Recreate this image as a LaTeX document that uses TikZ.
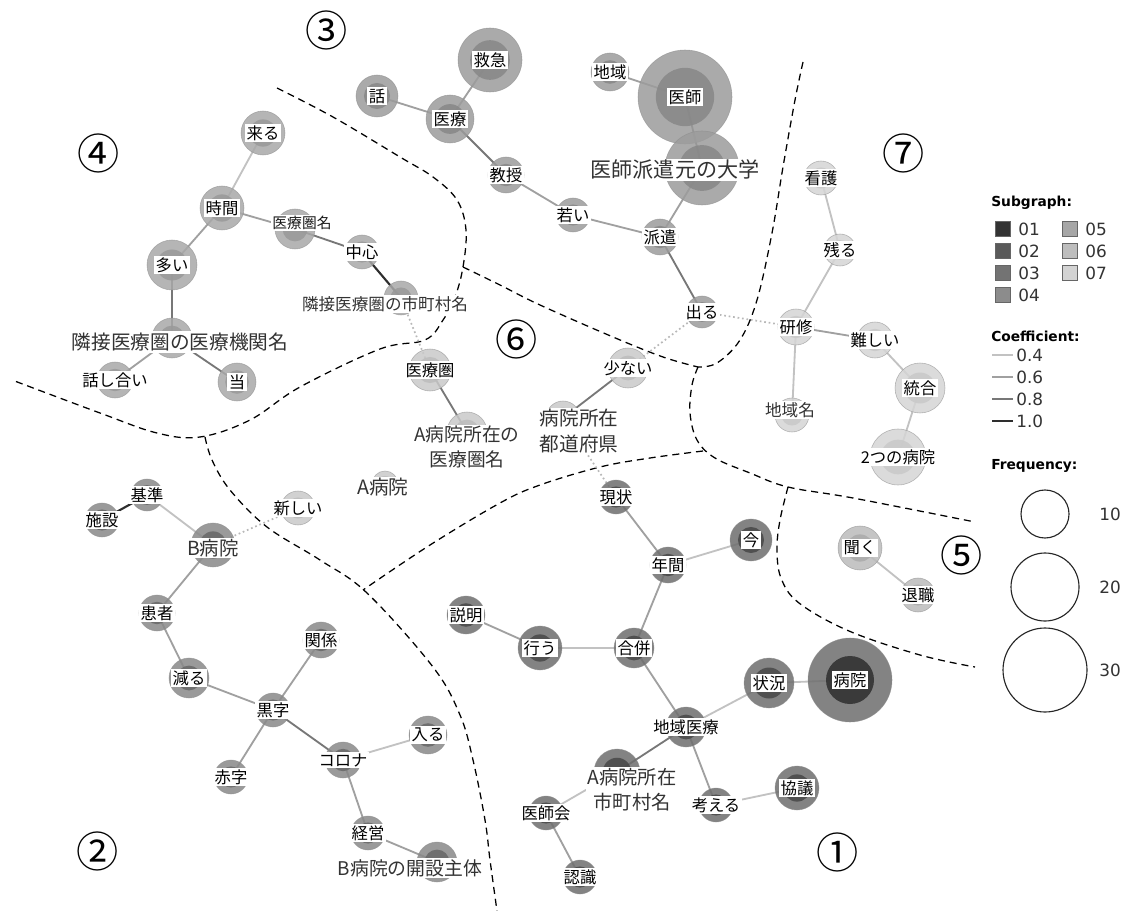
\documentclass[tikz,border=0pt]{standalone}
\usepackage{fontspec}
\setmainfont{DejaVu Sans}
\newfontfamily\jp{Noto Sans CJK JP}
\usepackage{tikz}
\usetikzlibrary{positioning}
\pgfdeclarelayer{bg}
\pgfsetlayers{bg,main}
\definecolor{sgKey1}{HTML}{333333}
\definecolor{sgKey2}{HTML}{5A5A5A}
\definecolor{sgKey3}{HTML}{737373}
\definecolor{sgKey4}{HTML}{8C8C8C}
\definecolor{sgKey5}{HTML}{A6A6A6}
\definecolor{sgKey6}{HTML}{BDBDBD}
\definecolor{sgKey7}{HTML}{D3D3D3}
\definecolor{sgOut1}{HTML}{6E6E6E}
\definecolor{sgOut2}{HTML}{898989}
\definecolor{sgOut3}{HTML}{9C9C9C}
\definecolor{sgOut4}{HTML}{A9A9A9}
\definecolor{sgOut5}{HTML}{BCBCBC}
\definecolor{sgOut6}{HTML}{C9C9C9}
\definecolor{sgOut7}{HTML}{D5D5D5}
\definecolor{sgIn1}{HTML}{484848}
\definecolor{sgIn2}{HTML}{686868}
\definecolor{sgIn3}{HTML}{878787}
\definecolor{sgIn4}{HTML}{999999}
\definecolor{sgIn5}{HTML}{ABABAB}
\definecolor{sgIn6}{HTML}{BCBCBC}
\definecolor{sgIn7}{HTML}{C9C9C9}
\definecolor{coef4}{HTML}{C2C2C2}
\definecolor{coef6}{HTML}{A0A0A0}
\definecolor{coef8}{HTML}{777777}
\definecolor{coef10}{HTML}{2E2E2E}

\begin{document}
\begin{tikzpicture}[
    x=0.025cm, y=-0.025cm,
    kwc/.style     = {circle, inner sep=0pt, draw=black!45, line width=0.4pt, fill opacity=0.85, draw opacity=0.6},
    kwl/.style     = {fill=white, inner sep=1.2pt, font=\jp\fontsize{11.6}{13}\selectfont, text=black},
    bigl/.style    = {fill=white, inner sep=1pt, font=\jp\fontsize{14}{18}\selectfont, text=black!80, align=center},
    bnd/.style     = {black, line width=0.9pt, dash pattern=on 5pt off 3.5pt},
    e4/.style      = {draw=coef4, line width=1.3pt},
    e6/.style      = {draw=coef6, line width=1.3pt},
    e8/.style      = {draw=coef8, line width=1.3pt},
    e10/.style     = {draw=coef10, line width=1.5pt},
    edot/.style    = {draw=black!28, line width=1.2pt, dotted},
    cnum/.style    = {font=\jp\fontsize{30}{30}\selectfont, inner sep=0pt},
    lgtitle/.style = {font=\bfseries\fontsize{9.8}{11}\selectfont, anchor=west, inner sep=0pt},
    lgtext/.style  = {font=\fontsize{12}{14}\selectfont, text=black!80, anchor=west, inner sep=0pt},
    swatch/.style  = {draw=black!60, line width=0.6pt, minimum size=0.38cm, inner sep=0pt},
    freqc/.style   = {circle, draw=black!85, line width=0.8pt, inner sep=0pt}
  ]
  \useasboundingbox (0,0) rectangle (1128,911);

  % keyword circles with a label
  \foreach \n/\x/\y/\r/\g/\t in {
      kyukyu/490/60/32/3/救急, hanashi/377/96/21/3/話, iryo/450/119/24/3/医療,
      kyoju/506/175/18/3/教授, wakai/573/215/17/3/若い, haken/660/237/18/3/派遣,
      chiiki/610/72/19/3/地域, ishi/685/97/47/3/医師, deru/702/312/16/3/出る,
      kuru/263/133/22/4/来る, jikan/222/208/22/4/時間, ooi/172/265/25/4/多い,
      chushin/362/252/17/4/中心, hanashiai/115/380/18/4/話し合い, tou/237/382/19/4/当,
      iryoken/430/370/21/6/医療圏, sukunai/628/368/20/6/少ない, atarashii/298/508/17/6/新しい,
      kango/821/178/17/7/看護, nokoru/840/250/16/7/残る, kenshu/796/327/18/7/研修,
      muzukashii/875/340/18/7/難しい, togo/920/388/25/7/統合, futatsu/898/457/28/7/2つの病院,
      kiku/860/548/22/5/聞く, taishoku/918/595/17/5/退職,
      genjo/616/497/17/1/現状, nenkan/668/565/18/1/年間, ima/751/540/21/1/今,
      setsumei/466/615/19/1/説明, okonau/540/648/22/1/行う, gappei/634/648/20/1/合併,
      chiikiiryo/686/727/20/1/地域医療, jokyo/769/683/25/1/状況, kangaeru/716/805/17/1/考える,
      kyogi/797/788/22/1/協議, ishikai/546/813/17/1/医師会, ninshiki/580/877/17/1/認識,
      kijun/147/495/16/2/基準, shisetsu/102/520/17/2/施設, kanja/157/613/18/2/患者,
      heru/189/678/20/2/減る, kankei/321/640/18/2/関係, kuroji/273/710/17/2/黒字,
      akaji/231/777/17/2/赤字, korona/343/760/18/2/コロナ, hairu/428/735/19/2/入る,
      keiei/368/833/17/2/経営}{
    \node[kwc, fill=sgOut\g, minimum size=2*\r*0.025cm] (\n) at (\x,\y) {};
    \fill[sgIn\g, fill opacity=0.85] (\n.center) circle[radius=0.62*\r*0.025cm];
    \node[kwl] (\n-t) at (\n.center) {\t};
  }
  \node[kwc, fill=sgOut1, minimum size=84*0.025cm] (byoin) at (850,680) {};
  \fill[sgKey1, fill opacity=0.9] (byoin.center) circle[radius=24*0.025cm];
  \node[kwl] (byoin-t) at (byoin.center) {病院};

  % keyword circles whose name is printed beside them
  \foreach \n/\x/\y/\r/\g in {
      daigaku/702/168/37/3, kenmei/295/229/20/4, rinshi/401/298/17/4,
      rinki/172/338/20/4, akenmei/467/432/20/6, abyoin/385/484/13/6,
      todofuken/563/418/17/6, chiikimei/792/415/17/7, ashichoson/617/772/23/1,
      bbyoin/213/545/22/2, kaisetsu/437/862/20/2}{
    \node[kwc, fill=sgOut\g, minimum size=2*\r*0.025cm] (\n) at (\x,\y) {};
    \fill[sgIn\g, fill opacity=0.85] (\n.center) circle[radius=0.62*\r*0.025cm];
  }
  \node[bigl, font=\jp\fontsize{15}{18}\selectfont] (daigaku-t) at (675,170) {医師派遣元の大学};
  \node[bigl, font=\jp\fontsize{10.5}{12}\selectfont, text=black!90] (kenmei-t) at (302,223) {医療圏名};
  \node[bigl, font=\jp\fontsize{11.8}{14}\selectfont] (rinshi-t) at (385,304) {隣接医療圏の市町村名};
  \node[bigl] (rinki-t) at (180,342) {隣接医療圏の医療機関名};
  \node[bigl, font=\jp\fontsize{13.3}{17.5}\selectfont] (akenmei-t) at (467,447) {A病院所在の\\医療圏名};
  \node[bigl] (abyoin-t) at (383,487) {A病院};
  \node[bigl] (todofuken-t) at (579,431) {病院所在\\都道府県};
  \node[bigl, font=\jp\fontsize{11.8}{14}\selectfont] (chiikimei-t) at (790,410) {地域名};
  \node[bigl, font=\jp\fontsize{13.7}{18}\selectfont] (ashichoson-t) at (632,790) {A病院所在\\市町村名};
  \node[bigl, font=\jp\fontsize{13.8}{17}\selectfont] (bbyoin-t) at (213,548) {B病院};
  \node[bigl, font=\jp\fontsize{13.4}{17}\selectfont] (kaisetsu-t) at (410,868) {B病院の開設主体};

  % region numbers
  \node[cnum] (num1) at (838,852) {①};
  \node[cnum] (num2) at (98,851)  {②};
  \node[cnum] (num3) at (327,30)  {③};
  \node[cnum] (num4) at (99,153)  {④};
  \node[cnum] (num5) at (962,555) {⑤};
  \node[cnum] (num6) at (517,339) {⑥};
  \node[cnum] (num7) at (904,153) {⑦};

  \begin{pgfonlayer}{bg}
    \fill[white] (0,0) rectangle (1128,911);
    \draw[bnd] plot[smooth, tension=0.6] coordinates {(277,88) (333,117) (400,157) (433,177)
      (457,200) (466,230) (463,267) (455,297) (443,320) (425,340) (380,349) (300,387)
      (250,420) (200,437) (157,433) (100,413) (12,380)};
    \draw[bnd] plot[smooth, tension=0.6] coordinates {(463,267) (500,285) (540,305)
      (613,337) (663,357) (698,367)};
    \draw[bnd] plot[smooth, tension=0.6] coordinates {(803,62) (795,100) (783,167)
      (772,233) (757,300) (740,340) (717,363) (698,367)};
    \draw[bnd] plot[smooth, tension=0.6] coordinates {(698,367) (692,385) (690,413)
      (697,440) (715,458) (750,473) (788,487) (853,498) (975,522)};
    \draw[bnd] plot[smooth, tension=0.6] coordinates {(703,451) (650,458) (600,467)
      (540,485) (500,503) (430,545) (363,590)};
    \draw[bnd] plot[smooth, tension=0.6] coordinates {(205,437) (212,460) (230,490)
      (267,527) (320,560) (367,593) (433,667) (460,715) (473,760) (485,820) (490,860) (497,911)};
    \draw[bnd] plot[smooth, tension=0.6] coordinates {(788,487) (780,520) (777,549)
      (781,578) (799,603) (849,631) (920,655) (975,667)};
  \end{pgfonlayer}

  \begin{pgfonlayer}{bg}
    \foreach \a/\b in {kuru/jikan, kango/nokoru, nokoru/kenshu, muzukashii/togo,
        togo/futatsu, kenshu/chiikimei, kiku/taishoku, nenkan/ima, okonau/gappei,
        chiikiiryo/jokyo, jokyo/byoin, kangaeru/kyogi, ishikai/ashichoson,
        kijun/bbyoin, korona/hairu}
      \draw[e4] (\a.center) -- (\b.center);
    \foreach \a/\b in {hanashi/iryo, kyukyu/iryo, kyoju/wakai, wakai/haken,
        haken/daigaku, chiiki/ishi, jikan/ooi, jikan/kenmei, rinki/hanashiai,
        kenshu/muzukashii, genjo/nenkan, nenkan/gappei, setsumei/okonau,
        gappei/chiikiiryo, chiikiiryo/kangaeru, ishikai/ninshiki, bbyoin/kanja,
        kanja/heru, heru/kuroji, kuroji/kankei, kuroji/akaji, korona/keiei,
        keiei/kaisetsu}
      \draw[e6] (\a.center) -- (\b.center);
    \foreach \a/\b in {iryo/kyoju, ishi/daigaku, haken/deru, kenmei/chushin,
        ooi/rinki, rinki/tou, iryoken/akenmei, sukunai/todofuken,
        chiikiiryo/ashichoson, kuroji/korona}
      \draw[e8] (\a.center) -- (\b.center);
    \foreach \a/\b in {chushin/rinshi, shisetsu/kijun}
      \draw[e10] (\a.center) -- (\b.center);
    \foreach \a/\b in {rinshi/iryoken, deru/sukunai, deru/kenshu, atarashii/bbyoin,
        todofuken/genjo}
      \draw[edot] (\a.center) -- (\b.center);
  \end{pgfonlayer}

  % legend
  \node[lgtitle] (lgsub) at (991,203) {Subgraph:};
  \foreach \i/\x/\y in {1/1003/229, 2/1003/251, 3/1003/273, 4/1003/295,
      5/1070/229, 6/1070/251, 7/1070/273}{
    \node[swatch, fill=sgKey\i] (key\i) at (\x,\y) {};
    \node[lgtext, right=5pt of key\i] (keylbl\i) {0\i};
  }
  \node[lgtitle] (lgcoef) at (991,336) {Coefficient:};
  \foreach \c/\y/\l in {4/355/0.4, 6/377/0.6, 8/399/0.8, 10/421/1.0}{
    \coordinate (ck\c) at (992,\y);
    \node[lgtext] (cl\c) at (1016,\y) {\l};
    \draw[e\c, shorten >=2.5pt] (ck\c) -- (cl\c.west);
  }
  \node[lgtitle] (lgfreq) at (991,466) {Frequency:};
  \foreach \f/\y/\r in {10/514/24, 20/587/34, 30/670/42}{
    \node[freqc, minimum size=2*\r*0.025cm] (fq\f) at (1045,\y) {};
    \node[lgtext] (fl\f) at (1099,\y) {\f};
  }
\end{tikzpicture}
\end{document}
